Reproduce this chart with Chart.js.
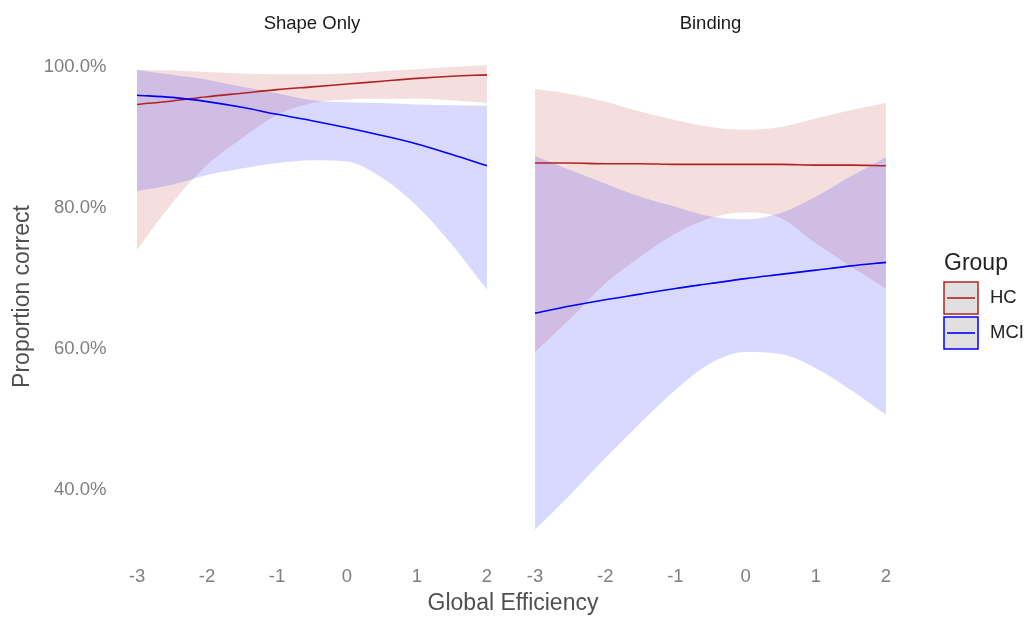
<!DOCTYPE html>
<html>
<head>
<meta charset="utf-8">
<script src="https://cdn.jsdelivr.net/npm/chart.js@4"></script>
<style>
  body { margin: 0; background: #fff; }
  #wrap { position: relative; width: 1028px; height: 618px; }
  canvas { position: absolute; top: 0; }
  #left { left: 0; }
  #right { left: 511px; }
</style>
</head>
<body>
<div id="wrap">
  <canvas id="left" width="1028" height="618"></canvas>
  <canvas id="right" width="517" height="618"></canvas>
</div>
<script>
const xValues = [-3, -2.5, -2, -1.5, -1, -0.5, 0, 0.5, 1, 1.5, 2];
const xTicks = [-3, -2, -1, 0, 1, 2];
const yTicks = [40, 60, 80, 100];
const groups = ['HC', 'MCI'];

// Shape Only panel (percent correct)
const shapeHC      = [94.4, 94.9, 95.5, 96.0, 96.5, 96.9, 97.3, 97.7, 98.1, 98.4, 98.6];
const shapeHCHigh  = [99.3, 99.2, 99.0, 98.8, 98.7, 98.7, 98.8, 99.1, 99.4, 99.7, 100.0];
const shapeHCLow   = [73.8, 80.4, 85.8, 89.6, 92.9, 94.6, 95.1, 95.2, 95.2, 95.0, 94.6];
const shapeMCI     = [95.7, 95.4, 94.8, 94.0, 93.0, 92.1, 91.1, 90.0, 88.8, 87.3, 85.7];
const shapeMCIHigh = [99.3, 98.6, 97.9, 96.9, 96.0, 95.0, 94.7, 94.6, 94.4, 94.3, 94.2];
const shapeMCILow  = [82.1, 83.0, 84.4, 85.3, 86.1, 86.5, 86.3, 84.0, 80.0, 74.5, 68.1];

// Binding panel
const bindHC      = [86.1, 86.1, 86.0, 86.0, 85.9, 85.9, 85.9, 85.9, 85.8, 85.8, 85.7];
const bindHCHigh  = [96.6, 95.9, 94.8, 93.4, 92.2, 91.2, 90.8, 91.2, 92.4, 93.6, 94.6];
const bindHCLow   = [59.3, 64.0, 69.0, 72.8, 76.1, 78.3, 79.1, 78.3, 74.7, 71.4, 68.3];
const bindMCI     = [64.8, 65.8, 66.7, 67.5, 68.3, 69.0, 69.7, 70.3, 70.9, 71.5, 72.0];
const bindMCIHigh = [87.1, 85.1, 83.2, 81.3, 79.9, 78.5, 78.1, 79.0, 81.3, 84.2, 86.9];
const bindMCILow  = [34.1, 39.0, 44.2, 49.2, 53.9, 57.7, 59.3, 59.0, 57.0, 53.9, 50.4];

const hcColor = '#b22222';
const mciColor = '#0000ff';
const hcFill = 'rgba(178,34,34,0.15)';
const mciFill = 'rgba(0,0,255,0.15)';
const FONT = "'Liberation Sans', Arial, sans-serif";

Chart.defaults.font.family = FONT;

const pts = arr => arr.map((v, i) => ({ x: xValues[i], y: v }));

function lineSet(label, arr, color, order) {
  return {
    label, data: pts(arr), borderColor: color, borderWidth: 1.6,
    pointRadius: 0, fill: false, order, cubicInterpolationMode: 'monotone'
  };
}
function bandSet(arr, fillColor, fill, order) {
  return {
    label: '', data: pts(arr), borderColor: 'rgba(0,0,0,0)', borderWidth: 0,
    backgroundColor: fillColor, pointRadius: 0, fill, order,
    cubicInterpolationMode: 'monotone'
  };
}

function panel(canvasId, title, s, showY, padding, extraPlugins) {
  return new Chart(document.getElementById(canvasId), {
    type: 'line',
    data: {
      datasets: [
        lineSet(groups[0], s.hc, hcColor, 1),
        lineSet(groups[1], s.mci, mciColor, 0),
        bandSet(s.hcHigh, hcFill, '+1', 3),
        bandSet(s.hcLow, hcFill, false, 3),
        bandSet(s.mciHigh, mciFill, '+1', 2),
        bandSet(s.mciLow, mciFill, false, 2)
      ]
    },
    options: {
      responsive: false,
      animation: false,
      events: [],
      layout: { padding },
      scales: {
        x: {
          type: 'linear', min: -3.25, max: 2.25,
          afterBuildTicks: sc => { sc.ticks = xTicks.map(v => ({ value: v })); },
          afterFit: sc => { sc.height = 67; },
          grid: { display: false, drawTicks: false },
          border: { display: false },
          ticks: { padding: 15, color: '#7f7f7f', font: { size: 18.5 }, maxRotation: 0 }
        },
        y: {
          display: showY,
          min: 31.06, max: 103.26,
          afterBuildTicks: sc => { sc.ticks = yTicks.map(v => ({ value: v })); },
          afterFit: sc => { sc.width = showY ? 119.5 : 0; },
          grid: { display: false, drawTicks: false },
          border: { display: false },
          ticks: { padding: 13, labelOffset: 2, color: '#7f7f7f', font: { size: 18.5 },
                   callback: v => v.toFixed(1) + '%' },
          title: { display: true, text: 'Proportion correct', color: '#505050',
                   font: { size: 23 }, padding: { top: 9, bottom: 0 } }
        }
      },
      plugins: {
        legend: { display: false },
        tooltip: { enabled: false },
        title: {
          display: true, text: title, fullSize: false, color: '#1a1a1a',
          font: { size: 18.5, weight: 'normal' }, padding: { top: 13, bottom: 6.8 }
        }
      }
    },
    plugins: extraPlugins
  });
}

const xTitlePlugin = {
  id: 'xTitle',
  afterDraw(chart) {
    const ctx = chart.ctx;
    ctx.save();
    ctx.font = '23px ' + FONT;
    ctx.fillStyle = '#505050';
    ctx.textAlign = 'center';
    ctx.textBaseline = 'alphabetic';
    ctx.fillText('Global Efficiency', 513, 610);
    ctx.restore();
  }
};

const legendPlugin = {
  id: 'groupLegend',
  afterDraw(chart) {
    const ctx = chart.ctx;
    const ox = -511;
    ctx.save();
    ctx.font = '23px ' + FONT;
    ctx.fillStyle = '#222';
    ctx.textBaseline = 'alphabetic';
    ctx.fillText('Group', 944 + ox, 270);
    const colors = [hcColor, mciColor];
    groups.forEach((g, i) => {
      const top = 282 + i * 35;
      ctx.fillStyle = '#e0e0e0';
      ctx.fillRect(944 + ox, top, 34, 32);
      ctx.strokeStyle = colors[i];
      ctx.lineWidth = 1.5;
      ctx.strokeRect(944 + ox, top, 34, 32);
      ctx.beginPath();
      ctx.moveTo(947 + ox, top + 16);
      ctx.lineTo(975 + ox, top + 16);
      ctx.lineWidth = 1.6;
      ctx.stroke();
      ctx.fillStyle = '#222';
      ctx.font = '18.5px ' + FONT;
      ctx.textBaseline = 'middle';
      ctx.fillText(g, 990 + ox, top + 16);
    });
    ctx.restore();
  }
};

panel('left', 'Shape Only', {
  hc: shapeHC, hcHigh: shapeHCHigh, hcLow: shapeHCLow,
  mci: shapeMCI, mciHigh: shapeMCIHigh, mciLow: shapeMCILow
}, true, { left: 0, right: 523.5, top: 0, bottom: 0 }, [xTitlePlugin]);

panel('right', 'Binding', {
  hc: bindHC, hcHigh: bindHCHigh, hcLow: bindHCLow,
  mci: bindMCI, mciHigh: bindMCIHigh, mciLow: bindMCILow
}, false, { left: 6.5, right: 124.5, top: 0, bottom: 0 }, [legendPlugin]);
</script>
</body>
</html>
